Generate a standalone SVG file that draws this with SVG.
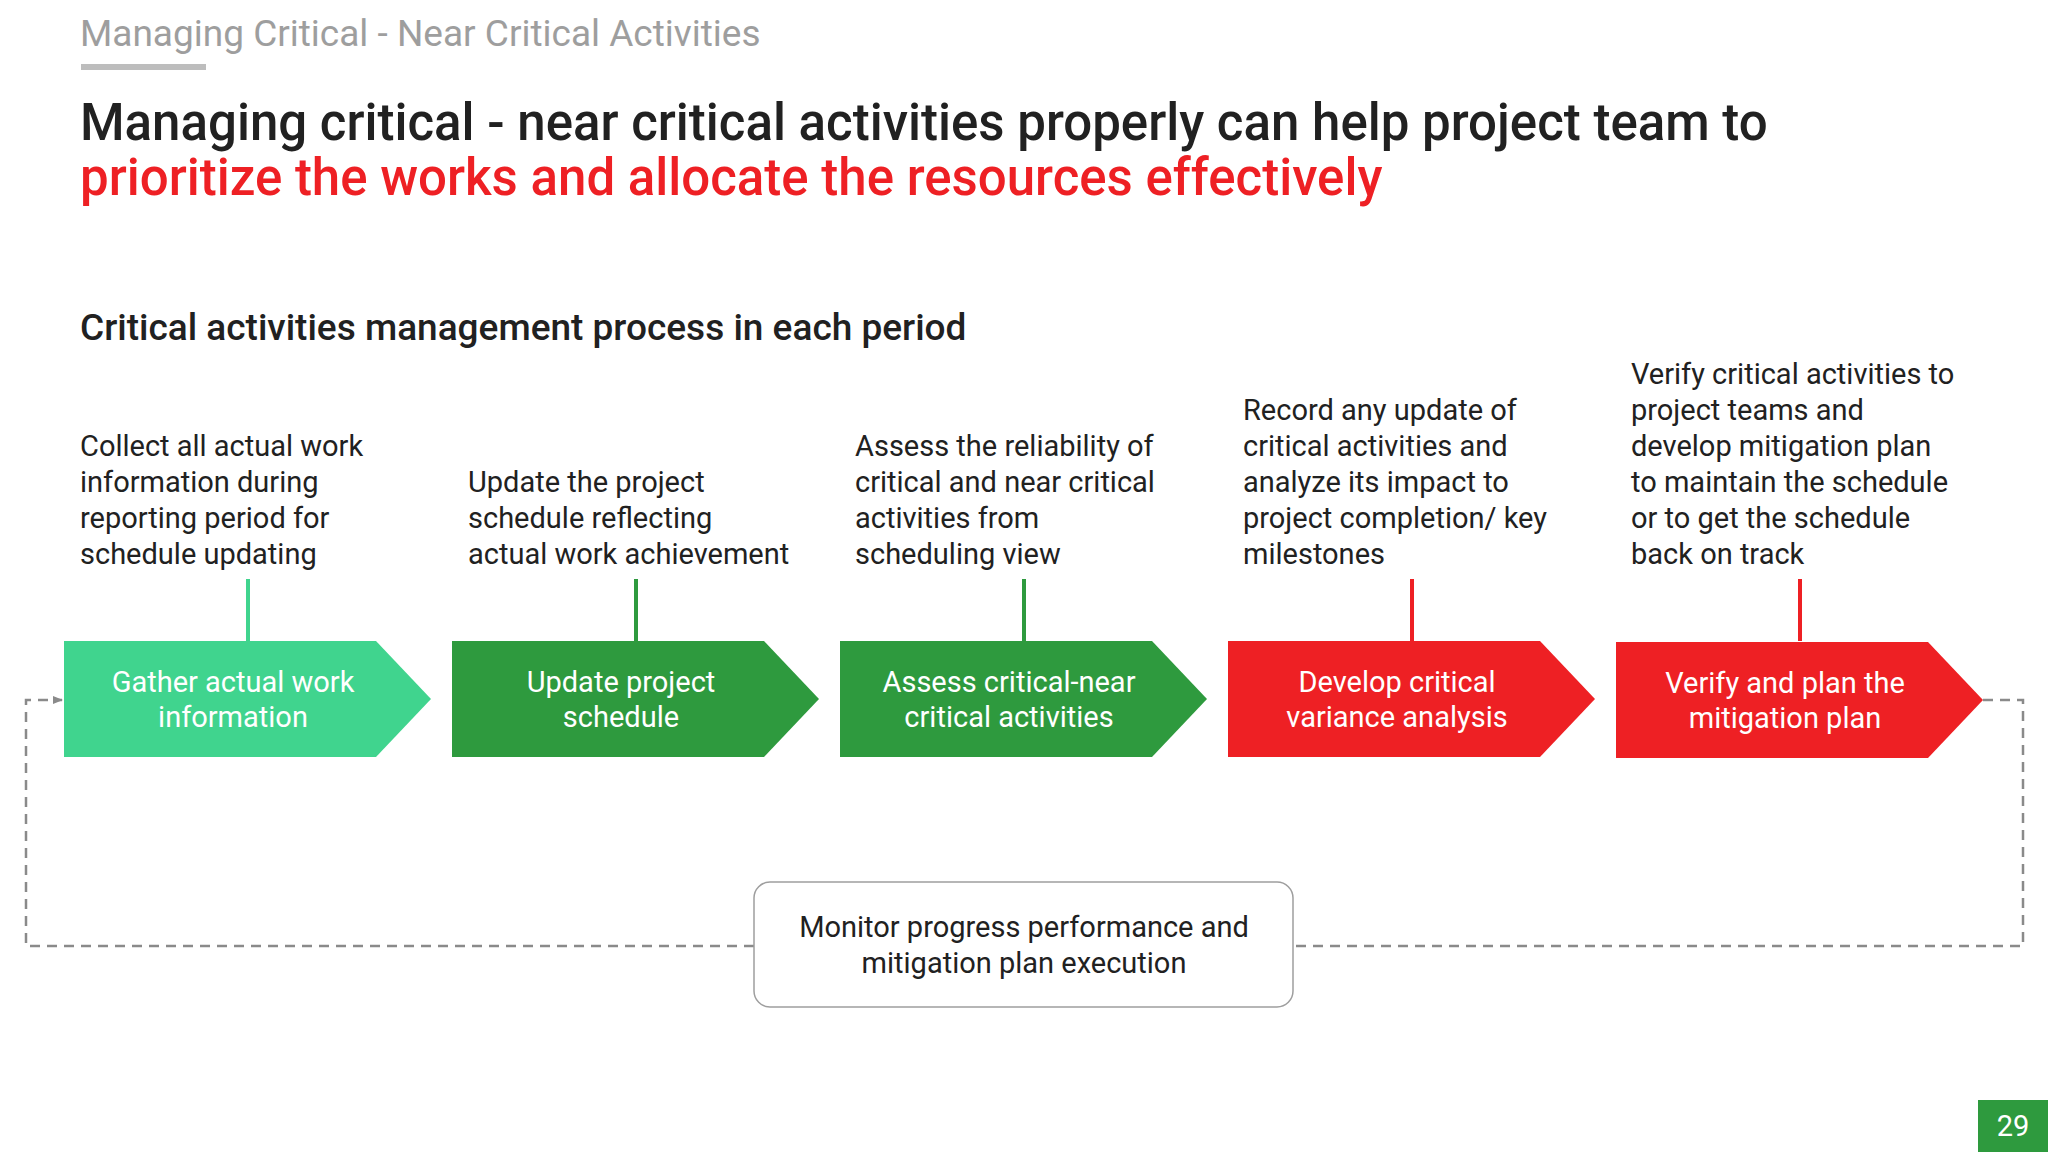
<svg xmlns="http://www.w3.org/2000/svg" width="2048" height="1152" viewBox="0 0 2048 1152">
<style>
text{font-family:Roboto,"Liberation Sans",sans-serif}
.d{font-size:29px;fill:#212121}
.c{font-size:29px;fill:#fff;text-anchor:middle}
.v{stroke-width:4}
.dash{fill:none;stroke:#8a8a8a;stroke-width:2.5;stroke-dasharray:10 7}
</style>
<defs><marker id="ah" markerWidth="10" markerHeight="10" refX="9" refY="5" orient="auto" markerUnits="userSpaceOnUse"><path d="M0,1 L10,5 L0,9 z" fill="#8a8a8a"/></marker></defs>
<rect width="2048" height="1152" fill="#fff"/>
<text x="80" y="46" font-size="37" fill="#9e9e9e">Managing Critical - Near Critical Activities</text>
<rect x="81" y="64" width="125" height="6" fill="#bdbdbd"/>
<text x="80" y="140" font-size="51" font-weight="500" fill="#212121">Managing critical - near critical activities properly can help project team to</text>
<text x="80" y="195" font-size="51" font-weight="500" fill="#ee2024">prioritize the works and allocate the resources effectively</text>
<text x="80" y="340" font-size="37" font-weight="500" fill="#212121">Critical activities management process in each period</text>
<g id="connectors">
<line x1="248" y1="579" x2="248" y2="641" stroke="#40d48e" class="v"/>
<line x1="636" y1="579" x2="636" y2="641" stroke="#2e9a3e" class="v"/>
<line x1="1024" y1="579" x2="1024" y2="641" stroke="#2e9a3e" class="v"/>
<line x1="1412" y1="579" x2="1412" y2="641" stroke="#ee2024" class="v"/>
<line x1="1800" y1="579" x2="1800" y2="641" stroke="#ee2024" class="v"/>
<path class="dash" d="M754,946 H26 V700 H62" marker-end="url(#ah)"/>
<path class="dash" d="M1983,700 H2023 V946 H1293"/>
</g>
<g id="n1"><text class="d"><tspan x="80" y="456">Collect all actual work</tspan><tspan x="80" y="492">information during</tspan><tspan x="80" y="528">reporting period for</tspan><tspan x="80" y="564">schedule updating</tspan></text>
<path d="M64,641 H376 L431,699 L376,757 H64 Z" fill="#40d48e"/><text class="c"><tspan x="233" y="692">Gather actual work</tspan><tspan x="233" y="727">information</tspan></text></g>
<g id="n2"><text class="d"><tspan x="468" y="492">Update the project</tspan><tspan x="468" y="528">schedule reflecting</tspan><tspan x="468" y="564">actual work achievement</tspan></text>
<path d="M452,641 H764 L819,699 L764,757 H452 Z" fill="#2e9a3e"/><text class="c"><tspan x="621" y="692">Update project</tspan><tspan x="621" y="727">schedule</tspan></text></g>
<g id="n3"><text class="d"><tspan x="855" y="456">Assess the reliability of</tspan><tspan x="855" y="492">critical and near critical</tspan><tspan x="855" y="528">activities from</tspan><tspan x="855" y="564">scheduling view</tspan></text>
<path d="M840,641 H1152 L1207,699 L1152,757 H840 Z" fill="#2e9a3e"/><text class="c"><tspan x="1009" y="692">Assess critical-near</tspan><tspan x="1009" y="727">critical activities</tspan></text></g>
<g id="n4"><text class="d"><tspan x="1243" y="420">Record any update of</tspan><tspan x="1243" y="456">critical activities and</tspan><tspan x="1243" y="492">analyze its impact to</tspan><tspan x="1243" y="528">project completion/ key</tspan><tspan x="1243" y="564">milestones</tspan></text>
<path d="M1228,641 H1540 L1595,699 L1540,757 H1228 Z" fill="#ee2024"/><text class="c"><tspan x="1397" y="692">Develop critical</tspan><tspan x="1397" y="727">variance analysis</tspan></text></g>
<g id="n5"><text class="d"><tspan x="1631" y="384">Verify critical activities to</tspan><tspan x="1631" y="420">project teams and</tspan><tspan x="1631" y="456">develop mitigation plan</tspan><tspan x="1631" y="492">to maintain the schedule</tspan><tspan x="1631" y="528">or to get the schedule</tspan><tspan x="1631" y="564">back on track</tspan></text>
<path d="M1616,642 H1928 L1983,700 L1928,758 H1616 Z" fill="#ee2024"/><text class="c"><tspan x="1785" y="693">Verify and plan the</tspan><tspan x="1785" y="728">mitigation plan</tspan></text></g>
<g id="n6"><rect x="754" y="882" width="539" height="125" rx="16" fill="#fff" stroke="#9e9e9e" stroke-width="1.5"/>
<text class="d" text-anchor="middle"><tspan x="1024" y="937">Monitor progress performance and</tspan><tspan x="1024" y="973">mitigation plan execution</tspan></text></g>
<rect x="1978" y="1100" width="70" height="52" fill="#2e9a3e"/>
<text x="2013" y="1136" font-size="29" fill="#fff" text-anchor="middle">29</text>
</svg>
